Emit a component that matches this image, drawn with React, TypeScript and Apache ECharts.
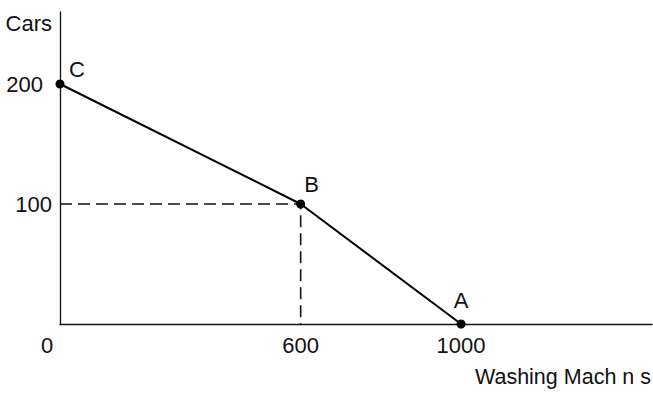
import React, { useEffect, useRef } from "react";
import * as echarts from "echarts";

const frontierPoints: [number, number][] = [
  [0, 200],
  [600, 100],
  [1000, 0],
];
const pointLabels = ["C", "B", "A"];
const guidePoints: [number, number][] = [
  [0, 100],
  [600, 100],
  [600, 0],
];
const xTickValues = [0, 600, 1000];
const yTickValues = [100, 200];
const xAxisName = "Washing Mach n s";
const yAxisName = "Cars";

const FONT = '"Liberation Sans", Arial, sans-serif';

export default function App() {
  const ref = useRef<HTMLDivElement>(null);
  useEffect(() => {
    if (!ref.current) return;
    const chart = echarts.init(ref.current, null, { renderer: "svg" });
    const labelOffsets: Record<string, number[]> = {
      C: [17, 6],
      B: [11, 1],
      A: [0, -3],
    };
    chart.setOption({
      animation: false,
      backgroundColor: "#fff",
      textStyle: { fontFamily: FONT },
      grid: {
        left: 60,
        right: 1,
        top: 12,
        bottom: 69,
        containLabel: false,
        outerBoundsMode: "none",
      },
      xAxis: {
        type: "value",
        min: 0,
        max: 1476,
        name: xAxisName,
        nameLocation: "end",
        nameGap: -1,
        nameTextStyle: {
          fontFamily: FONT,
          fontSize: 21.5,
          color: "#111",
          align: "right",
          verticalAlign: "top",
          padding: [42, 0, 0, 0],
        },
        splitLine: { show: false },
        axisTick: { show: false },
        axisLine: { show: true, lineStyle: { color: "#111", width: 1.3 } },
        axisLabel: {
          customValues: xTickValues,
          color: "#111",
          fontFamily: FONT,
          fontSize: 22,
          margin: 10,
          formatter: (v: number) => (v === 0 ? "{z|0}" : String(v)),
          rich: {
            z: { fontFamily: FONT, fontSize: 22, color: "#111", padding: [0, 26, 0, 0] },
          },
        },
      },
      yAxis: {
        type: "value",
        min: 0,
        max: 260,
        name: yAxisName,
        nameLocation: "end",
        nameGap: 0,
        nameTextStyle: {
          fontFamily: FONT,
          fontSize: 22,
          color: "#111",
          align: "right",
          verticalAlign: "top",
          padding: [0, 8, 0, 0],
        },
        splitLine: { show: false },
        axisTick: { show: false },
        axisLine: { show: true, lineStyle: { color: "#111", width: 1.3 } },
        axisLabel: {
          customValues: yTickValues,
          color: "#111",
          fontFamily: FONT,
          fontSize: 22,
          margin: 8,
          formatter: (v: number) => (v === 200 ? "{t|200}" : String(v)),
          rich: {
            t: { fontFamily: FONT, fontSize: 22, color: "#111", padding: [0, 9, 0, 0] },
          },
        },
      },
      series: [
        {
          type: "line",
          data: guidePoints,
          symbol: "none",
          lineStyle: { color: "#111", width: 1.6, type: [12, 6] },
          silent: true,
          z: 1,
        },
        {
          type: "line",
          data: frontierPoints.map((p, i) => ({
            value: p,
            label: {
              show: true,
              formatter: pointLabels[i],
              position: "top",
              offset: labelOffsets[pointLabels[i]],
              color: "#111",
              fontFamily: FONT,
              fontSize: 22,
            },
          })),
          symbol: "circle",
          symbolSize: 9,
          itemStyle: { color: "#000" },
          lineStyle: { color: "#000", width: 2 },
          z: 2,
        },
      ],
    });
    return () => chart.dispose();
  }, []);
  return <div ref={ref} style={{ width: 653, height: 393, position: "fixed", left: 0, top: 0 }} />;
}
